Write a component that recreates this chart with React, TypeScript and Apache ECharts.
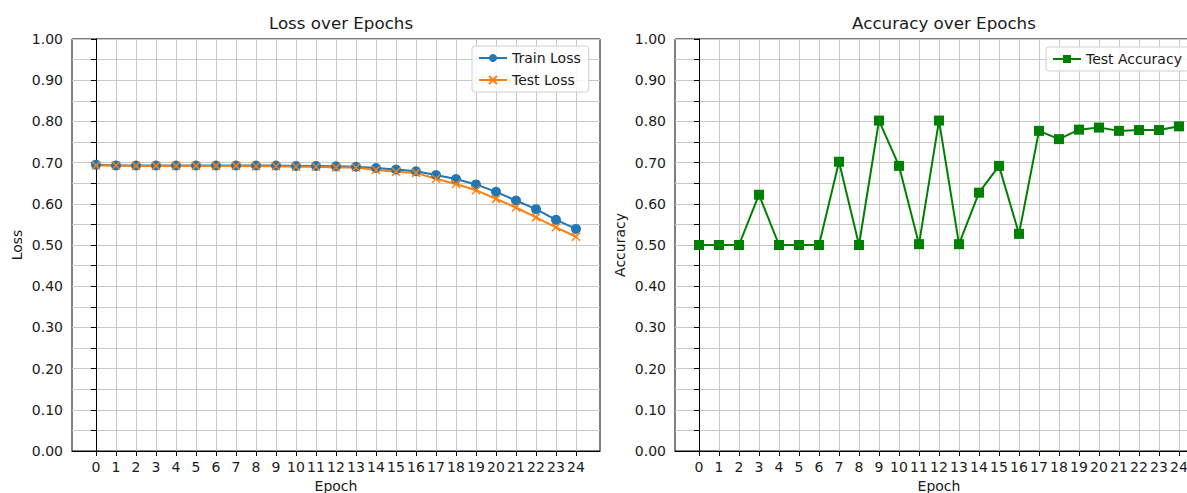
import React, { useEffect, useRef } from "react";
import * as echarts from "echarts";

const epochs: number[] = Array.from({ length: 25 }, (_, i) => i);
const trainLoss: number[] = [
  0.695, 0.693, 0.693, 0.693, 0.693, 0.693, 0.693, 0.693, 0.693, 0.693,
  0.692, 0.692, 0.691, 0.690, 0.687, 0.683, 0.679, 0.670, 0.660, 0.647,
  0.629, 0.608, 0.587, 0.561, 0.539,
];
const testLoss: number[] = [
  0.693, 0.693, 0.692, 0.692, 0.692, 0.692, 0.692, 0.692, 0.691, 0.691,
  0.690, 0.690, 0.688, 0.688, 0.682, 0.678, 0.675, 0.661, 0.648, 0.633,
  0.612, 0.591, 0.567, 0.543, 0.520,
];
const testAccuracy: number[] = [
  0.5, 0.5, 0.5, 0.622, 0.5, 0.5, 0.5, 0.702, 0.5, 0.802,
  0.692, 0.502, 0.802, 0.502, 0.627, 0.692, 0.527, 0.777, 0.757, 0.78,
  0.785, 0.777, 0.779, 0.779, 0.788,
];

const FONT = "DejaVu Sans";
const TXT = "#1a1a1a";
const GRIDC = "#c8c8c8";
const FS = 14;

function xAxis(gridIndex: number) {
  return {
    type: "value",
    gridIndex,
    min: -1.2,
    max: 25.2,
    name: "Epoch",
    nameLocation: "middle",
    nameGap: 28,
    nameTextStyle: { fontFamily: FONT, fontSize: FS, color: TXT },
    axisLine: { show: true, onZero: false, lineStyle: { color: "#000", width: 1 } },
    axisTick: { show: true, customValues: epochs, length: 5, lineStyle: { color: "#000" } },
    axisLabel: { customValues: epochs, fontFamily: FONT, fontSize: FS, color: TXT, margin: 9 },
    splitLine: { show: true, lineStyle: { color: GRIDC, width: 1 } },
  };
}

function yAxis(gridIndex: number, name: string) {
  return {
    type: "value",
    gridIndex,
    min: 0,
    max: 1,
    interval: 0.05,
    name,
    nameLocation: "middle",
    nameGap: 48,
    nameTextStyle: { fontFamily: FONT, fontSize: FS, color: TXT },
    axisLine: { show: true, lineStyle: { color: "#000", width: 1 } },
    axisTick: { show: true, length: 5, lineStyle: { color: "#000" } },
    axisLabel: {
      fontFamily: FONT,
      fontSize: FS,
      color: TXT,
      margin: 9,
      formatter: (v: number) => (Math.round(v * 100) % 10 === 0 ? v.toFixed(2) : ""),
    },
    splitLine: { show: true, lineStyle: { color: GRIDC, width: 1 } },
  };
}

const legendBase = {
  orient: "vertical",
  itemWidth: 28,
  itemHeight: 10,
  itemGap: 8,
  padding: [5, 8, 5, 6],
  borderColor: "#d0d0d0",
  borderWidth: 1,
  borderRadius: 3,
  backgroundColor: "rgba(255,255,255,0.85)",
  textStyle: { fontFamily: FONT, fontSize: FS, color: TXT },
};

export default function App() {
  const ref = useRef<HTMLDivElement>(null);
  useEffect(() => {
    document.body.style.margin = "0";
    const chart = echarts.init(ref.current!, null, { renderer: "svg" });
    chart.setOption({
      animation: false,
      backgroundColor: "#fff",
      title: [
        {
          text: "Loss over Epochs",
          left: 336,
          top: 9,
          textAlign: "center",
          textStyle: { fontFamily: FONT, fontSize: 16.7, fontWeight: "normal", color: TXT },
        },
        {
          text: "Accuracy over Epochs",
          left: 939,
          top: 9,
          textAlign: "center",
          textStyle: { fontFamily: FONT, fontSize: 16.7, fontWeight: "normal", color: TXT },
        },
      ],
      grid: [
        { left: 72, top: 39, width: 528, height: 412, outerBoundsMode: "none", containLabel: false, show: true, borderColor: "#000", borderWidth: 1, backgroundColor: "transparent" },
        { left: 675, top: 39, width: 528, height: 412, outerBoundsMode: "none", containLabel: false, show: true, borderColor: "#000", borderWidth: 1, backgroundColor: "transparent" },
      ],
      xAxis: [xAxis(0), xAxis(1)],
      yAxis: [yAxis(0, "Loss"), yAxis(1, "Accuracy")],
      legend: [
        { ...legendBase, left: 472, top: 46, data: ["Train Loss", "Test Loss"] },
        { ...legendBase, left: 1046, top: 47, data: ["Test Accuracy"] },
      ],
      series: [
        {
          name: "Train Loss",
          type: "line",
          xAxisIndex: 0,
          yAxisIndex: 0,
          data: epochs.map((e, i) => [e, trainLoss[i]]),
          symbol: "circle",
          symbolSize: 10,
          lineStyle: { color: "#1f77b4", width: 2 },
          itemStyle: { color: "#1f77b4" },
        },
        {
          name: "Test Loss",
          type: "line",
          xAxisIndex: 0,
          yAxisIndex: 0,
          data: epochs.map((e, i) => [e, testLoss[i]]),
          symbol: "path://M0,0L10,10M10,0L0,10",
          symbolSize: 8,
          lineStyle: { color: "#ff7f0e", width: 2 },
          itemStyle: { color: "#ff7f0e", borderColor: "#ff7f0e", borderWidth: 1.5 },
        },
        {
          name: "Test Accuracy",
          type: "line",
          xAxisIndex: 1,
          yAxisIndex: 1,
          data: epochs.map((e, i) => [e, testAccuracy[i]]),
          symbol: "rect",
          symbolSize: 10,
          lineStyle: { color: "#008000", width: 2 },
          itemStyle: { color: "#008000" },
        },
      ],
    });
    return () => chart.dispose();
  }, []);
  return <div ref={ref} style={{ width: 1187, height: 493 }} />;
}
